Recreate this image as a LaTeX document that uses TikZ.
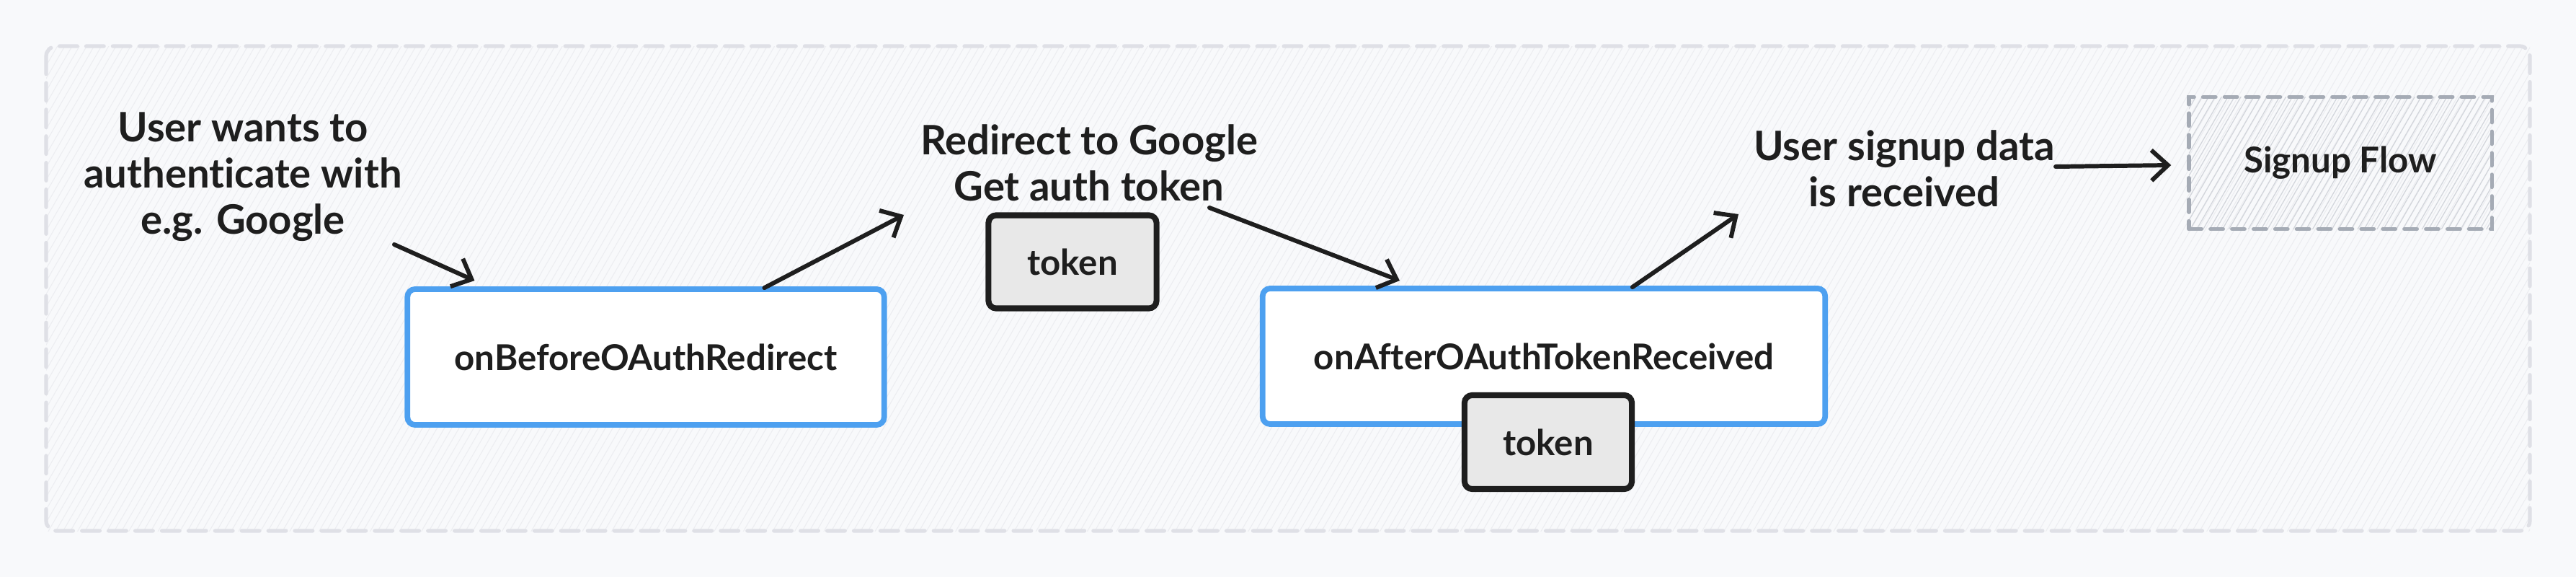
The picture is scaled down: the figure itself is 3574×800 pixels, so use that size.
\documentclass[tikz,border=0pt]{standalone}
\usepackage{fontspec}
\setmainfont{Lato}[Ligatures=NoCommon]
\usetikzlibrary{arrows.meta,calc,patterns.meta}
\definecolor{bgc}{HTML}{F8F9FB}
\definecolor{framec}{HTML}{DFE0E6}
\definecolor{hatchc}{HTML}{ECEDF1}
\definecolor{bluec}{HTML}{4DA0F0}
\definecolor{inkc}{HTML}{1E1E1E}
\definecolor{tokenc}{HTML}{E8E8E8}
\definecolor{flowc}{HTML}{A5ABB5}
\definecolor{flowhatch}{HTML}{D2D5DB}
\tikzset{
  lbl/.style={font=\fontsize{14}{18.2}\selectfont\bfseries, text=inkc, align=center, inner sep=0pt},
  freelbl/.style={lbl, font=\fontsize{16}{18.2}\selectfont\bfseries},
  hookbox/.style={draw=bluec, line width=2.2pt, fill=white, rounded corners=3pt, inner sep=0pt, lbl},
  tokenbox/.style={draw=inkc, line width=2.3pt, fill=tokenc, rounded corners=3pt, inner sep=0pt, lbl},
  flowbox/.style={draw=flowc, line width=1.5pt, dash pattern=on 5pt off 3.5pt, line cap=round, inner sep=0pt, lbl,
    pattern={Lines[angle=60,distance=2.2pt,line width=0.35pt]}, pattern color=flowhatch},
  arr/.style={draw=inkc, line width=1.7pt, line cap=round, -{Straight Barb[length=6.5pt,width=12pt,line width=1.7pt]}}
}
\begin{document}
\begin{tikzpicture}[x=0.01cm,y=-0.01cm]
\useasboundingbox (0,0) rectangle (3574,800);
\fill[bgc] (0,0) rectangle (3574,800);
\fill[pattern={Lines[angle=60,distance=2.5pt,line width=0.3pt]}, pattern color=hatchc] (64,64) rectangle (3510,736);
\draw[framec, line width=1.5pt, dash pattern=on 7pt off 3.5pt, line cap=round, rounded corners=4pt] (64,64) rectangle (3510,736);

\node[freelbl] (user) at (337,245) {User wants to\\authenticate with\\e.g. Google};
\node[hookbox, minimum width=66.1mm, minimum height=18.8mm] (before) at (896,495) {onBeforeOAuthRedirect};
\node[freelbl] (redirect) at (1511,226) {Redirect to Google\\Get auth token};
\node[tokenbox, minimum width=23.3mm, minimum height=12.9mm] (tok1) at (1488,363) {token};
\node[hookbox, minimum width=78mm, minimum height=18.8mm] (after) at (2142,494) {onAfterOAuthTokenReceived};
\node[tokenbox, minimum width=23.2mm, minimum height=13mm] (tok2) at (2148,613) {token};
\node[freelbl] (signup) at (2642,234) {User signup data\\is received};
\node[flowbox, minimum width=42mm, minimum height=18.3mm] (flow) at (3247,226) {Signup Flow};

\draw[arr] ($(user)+(210,94)$) -- ($(before.north west)+(97,-8)$);
\draw[arr] ($(before.north west)+(499,2)$) -- ($(redirect)+(-257,72)$);
\draw[arr] ($(redirect)+(167,62)$) -- ($(after.north west)+(194,-7)$);
\draw[arr] ($(after.north west)+(517,2)$) -- ($(signup)+(-230,63)$);
\draw[arr] ($(signup)+(210,-3)$) -- ($(flow.west)+(-24,3)$);
\end{tikzpicture}
\end{document}
